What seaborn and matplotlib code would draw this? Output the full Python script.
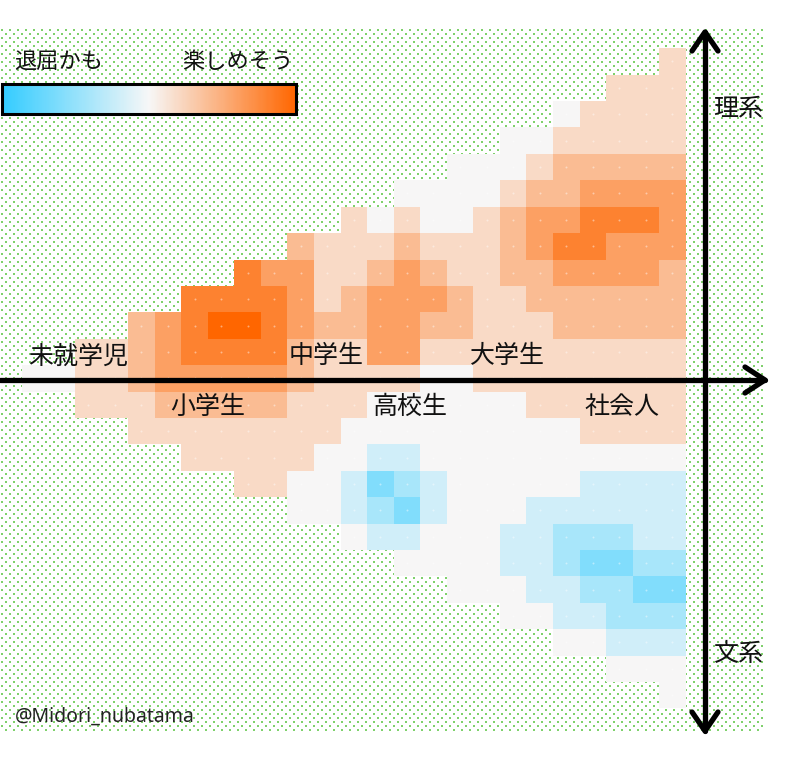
import numpy as np
import matplotlib
matplotlib.use("Agg")
import matplotlib.pyplot as plt
from matplotlib.colors import LinearSegmentedColormap, Normalize
from matplotlib.cm import ScalarMappable
import seaborn as sns

sns.set_style("white")
plt.rcParams['font.family'] = ['Noto Sans CJK JP', 'DejaVu Sans']

N = None
# enjoyment level per cell (-5 = boring ... +5 = fun), None = no data
grid_levels = [
    [N]*24 + [1],
    [N]*22 + [1, 1, 1],
    [N]*20 + [0, 1, 1, 1, 1],
    [N]*18 + [0, 0, 1, 1, 1, 1, 1],
    [N]*16 + [0, 0, 0, 1, 2, 2, 2, 2, 2],
    [N]*14 + [0, 0, 0, 0, 1, 2, 2, 3, 3, 3, 3],
    [N]*12 + [1, 0, 1, 0, 0, 1, 2, 3, 3, 4, 4, 4, 3],
    [N]*10 + [2, 1, 1, 1, 2, 1, 1, 1, 2, 3, 4, 4, 3, 3, 3],
    [N]*8 + [4, 3, 3, 1, 1, 2, 3, 2, 1, 1, 2, 2, 3, 3, 3, 3, 2],
    [N]*6 + [4, 4, 4, 4, 3, 1, 2, 3, 3, 3, 2, 1, 1, 2, 2, 2, 2, 2, 2],
    [N]*4 + [2, 3, 4, 5, 5, 4, 3, 2, 2, 3, 3, 2, 2, 1, 1, 1, 2, 2, 2, 2, 2],
    [N]*2 + [1, 1, 2, 3, 4, 4, 4, 4, 2, 1, 1, 3, 3, 1, 1, 1, 1, 1, 1, 1, 1, 1, 1],
    [0, 0, 1, 1, 2, 3, 3, 3, 3, 3, 2, 1, 1, 1, 1, 0, 0, 1, 1, 1, 1, 1, 1, 1, 1],
    [N]*2 + [1, 1, 1, 2, 2, 2, 2, 2, 1, 1, 1, 0, 0, 0, 0, 0, 0, 1, 1, 1, 1, 1, 1],
    [N]*4 + [1]*8 + [0]*9 + [1]*4,
    [N]*6 + [1]*5 + [0, 0] + [-1, -1] + [0]*10,
    [N]*8 + [1, 1, 0, 0, -1, -3, -2, -1, 0, 0, 0, 0, 0, -1, -1, -1, -1],
    [N]*10 + [0, 0, -1, -2, -3, -1, 0, 0, 0, -1, -1, -1, -1, -1, -1],
    [N]*12 + [0, -1, -1, 0, 0, 0, -1, -1, -2, -2, -2, -1, -1],
    [N]*14 + [0, 0, 0, 0, -1, -1, -2, -3, -3, -2, -2],
    [N]*16 + [0, 0, 0, -1, -1, -2, -2, -3, -3],
    [N]*18 + [0, 0, -1, -1, -2, -2, -2],
    [N]*20 + [0, 0, -1, -1, -1],
    [N]*22 + [0, 0, 0],
    [N]*24 + [0],
]

stage_labels = ['未就学児', '中学生', '大学生', '小学生', '高校生', '社会人']
axis_labels = ['理系', '文系']
scale_labels = ['退屈かも', '楽しめそう']
credit = '@Midori_nubatama'

W, H = 796, 763
fig = plt.figure(figsize=(W / 100, H / 100), dpi=100)
fig.patch.set_facecolor('white')

def frac(x0, y0, x1, y1):
    return [x0 / W, 1 - y1 / H, (x1 - x0) / W, (y1 - y0) / H]

# background dotted pattern (staggered)
bg = fig.add_axes([0, 0, 1, 1], zorder=0)
bg.set_xlim(0, W); bg.set_ylim(H, 0); bg.axis('off')
dx, dy = [], []
for k, yy in enumerate(np.arange(30, 733, 4.0)):
    xs = np.arange(2 + 4 * (k % 2), 766, 8.0)
    dx.extend(xs); dy.extend([yy] * len(xs))
bg.scatter(dx, dy, s=0.8, marker='s', color='#7fd16c', linewidths=0)

# heatmap
data = np.array([[np.nan if v is None else v for v in row] for row in grid_levels], dtype=float)
cmap = LinearSegmentedColormap.from_list('fun', ['#33ccff', '#f7f7f7', '#ff6600'])
hax = fig.add_axes(frac(22, 48.3, 685.7, 708.3), zorder=1)
sns.heatmap(data, mask=np.isnan(data), cmap=cmap, vmin=-5, vmax=5, cbar=False,
            ax=hax, linewidths=0, square=False)
hax.set_xticks([]); hax.set_yticks([])
hax.patch.set_alpha(0)
rr, cc = np.where(~np.isnan(data))
hax.scatter(cc + 0.5, rr + 0.5, s=2, color='white', alpha=0.45, linewidths=0)

# overlay: arrows and labels
ov = fig.add_axes([0, 0, 1, 1], zorder=2)
ov.set_xlim(0, W); ov.set_ylim(H, 0); ov.axis('off')
lw = 3.8
kw = dict(color='black', lw=lw, solid_capstyle='round', solid_joinstyle='round')
ov.plot([0, 765], [380, 380], **kw)
ov.plot([745, 765, 745], [367, 380, 393], **kw)
ov.plot([705, 705], [32, 731], **kw)
ov.plot([692, 705, 718], [51, 32, 51], **kw)
ov.plot([692, 705, 718], [712, 731, 712], **kw)

fs = 18
pos = {'未就学児': (78, 357), '中学生': (326, 356), '大学生': (507, 356),
       '小学生': (208, 407), '高校生': (410, 407), '社会人': (622, 407)}
for lab in stage_labels:
    x, y = pos[lab]
    ov.text(x, y, lab, fontsize=fs, ha='center', va='center', color='#111111')
ov.text(738, 109, axis_labels[0], fontsize=fs, ha='center', va='center', color='#111111')
ov.text(738, 654, axis_labels[1], fontsize=fs, ha='center', va='center', color='#111111')
ov.text(59, 61, scale_labels[0], fontsize=16, ha='center', va='center', color='#111111')
ov.text(238, 61, scale_labels[1], fontsize=16, ha='center', va='center', color='#111111')
ov.text(15, 717, credit, fontsize=14, ha='left', va='center', color='#222222',
        family=['Noto Sans', 'DejaVu Sans'])

# colorbar
cax = fig.add_axes(frac(2, 84, 296, 114), zorder=3)
cb = fig.colorbar(ScalarMappable(norm=Normalize(-5, 5), cmap=cmap), cax=cax,
                  orientation='horizontal')
cb.set_ticks([])
cb.outline.set_linewidth(2.2)
cb.outline.set_edgecolor('black')

fig.savefig('out.png', dpi=100, facecolor='white')
